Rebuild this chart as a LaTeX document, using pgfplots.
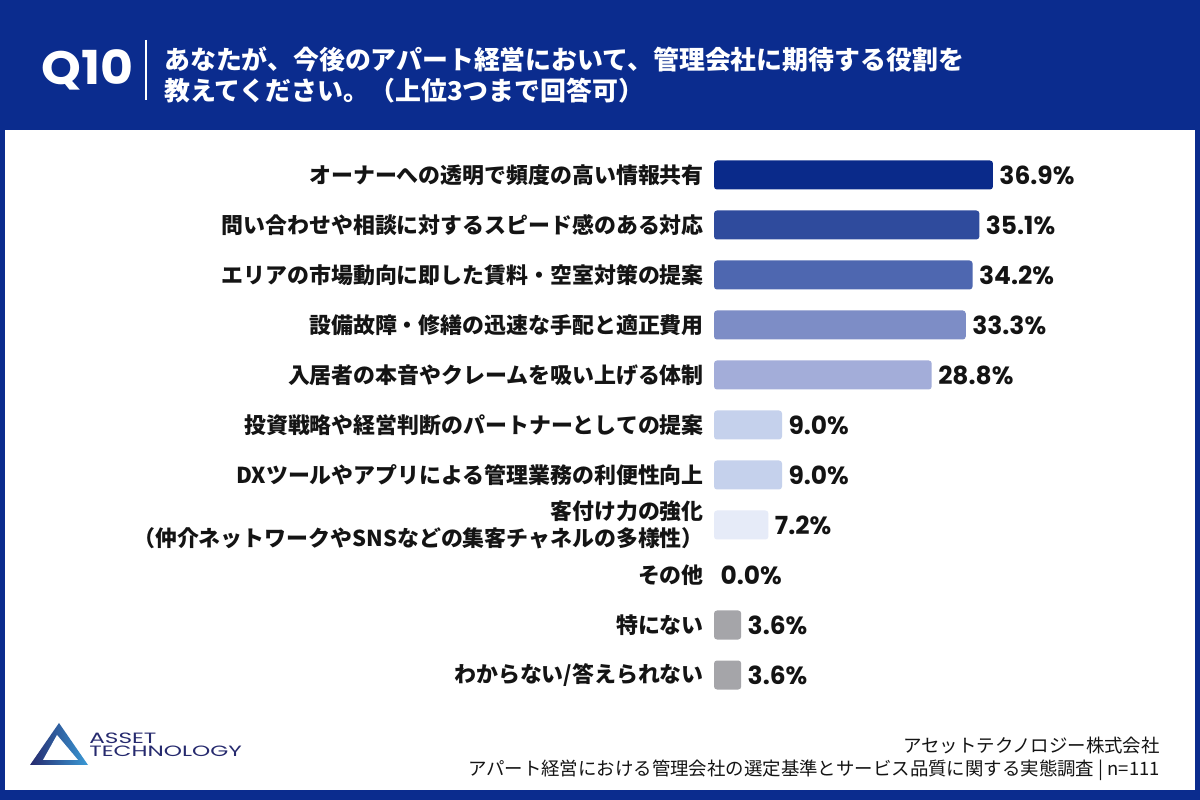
\documentclass[border=0pt]{standalone}
\usepackage{fontspec}
\usepackage{pgfplots}
\pgfplotsset{compat=1.18}
\setmainfont{Noto Sans CJK JP}
\newfontfamily\numfont{Poppins}

\definecolor{headblue}{HTML}{0B2C8E}
\definecolor{cA}{HTML}{0A2A8A}
\definecolor{cB}{HTML}{2F4B9D}
\definecolor{cC}{HTML}{4E67B0}
\definecolor{cD}{HTML}{7D8DC6}
\definecolor{cE}{HTML}{A3ADD9}
\definecolor{cF}{HTML}{C5D1EC}
\definecolor{cG}{HTML}{E6EBF8}
\definecolor{cGray}{HTML}{A5A5A9}
\definecolor{logonavy}{HTML}{262A6E}
\definecolor{logolight}{HTML}{3A9AD6}
\definecolor{txt}{HTML}{141414}

\begin{document}
\begin{tikzpicture}[x=1bp,y=1bp]
\useasboundingbox (0,0) rectangle (1200,800);
% frame and white panel
\fill[headblue] (0,0) rectangle (1200,800);
\fill[white] (5,10) rectangle (1195,670);

% header
\node[anchor=west, text=white, inner sep=0pt, xscale=1.08,
      font=\numfont\bfseries\fontsize{47}{47}\selectfont] at (41,730) {Q10};
\draw[white, line width=1.5bp] (146,760) -- (146,700);
\node[anchor=west, text=white, inner sep=0pt, align=left,
      font=\bfseries\fontsize{26}{32}\selectfont] at (164,725)
  {あなたが、今後のアパート経営において、管理会社に期待する役割を\\教えてください。（上位3つまで回答可）};

% bar chart
\begin{axis}[
  at={(714bp,100bp)}, anchor=south west,
  scale only axis, width=302.4bp, height=550bp,
  xmin=0, xmax=40, ymin=-0.5, ymax=10.5, y dir=reverse,
  xbar, bar width=29bp, bar shift=0pt,
  axis line style={draw=none},
  xtick=\empty, ytick={0,...,10}, major tick length=0pt,
  yticklabels={
    オーナーへの透明で頻度の高い情報共有,
    問い合わせや相談に対するスピード感のある対応,
    エリアの市場動向に即した賃料・空室対策の提案,
    設備故障・修繕の迅速な手配と適正費用,
    入居者の本音やクレームを吸い上げる体制,
    投資戦略や経営判断のパートナーとしての提案,
    DXツールやアプリによる管理業務の利便性向上,
    {客付け力の強化\\（仲介ネットワークやSNSなどの集客チャネルの多様性）},
    その他,
    特にない,
    わからない/答えられない},
  yticklabel style={align=right, text=txt, inner xsep=10bp,
    font=\bfseries\fontsize{22}{27}\selectfont},
  nodes near coords={\pgfmathprintnumber[fixed,fixed zerofill,precision=1,assume math mode=true]{\pgfplotspointmeta}\%},
  nodes near coords style={font=\numfont\bfseries\fontsize{25}{25}\selectfont,
    text=txt, anchor=west, xshift=3bp},
  clip=false,
]
\addplot[fill=cA, draw=none, rounded corners=3bp] coordinates {(36.9,0)};
\addplot[fill=cB, draw=none, rounded corners=3bp] coordinates {(35.1,1)};
\addplot[fill=cC, draw=none, rounded corners=3bp] coordinates {(34.2,2)};
\addplot[fill=cD, draw=none, rounded corners=3bp] coordinates {(33.3,3)};
\addplot[fill=cE, draw=none, rounded corners=3bp] coordinates {(28.8,4)};
\addplot[fill=cF, draw=none, rounded corners=3bp] coordinates {(9.0,5)};
\addplot[fill=cF, draw=none, rounded corners=3bp] coordinates {(9.0,6)};
\addplot[fill=cG, draw=none, rounded corners=3bp] coordinates {(7.2,7)};
\addplot[fill=none, draw=none] coordinates {(0.0,8)};
\addplot[fill=cGray, draw=none, rounded corners=3bp] coordinates {(3.6,9)};
\addplot[fill=cGray, draw=none, rounded corners=3bp] coordinates {(3.6,10)};
\end{axis}

% logo
\shade[left color=logonavy, right color=logolight] (30,35) -- (59,77) -- (88,35) -- cycle;
\fill[white] (43,40) -- (57,65) -- (78,40) -- cycle;
\node[anchor=west, inner sep=0pt, text=logonavy, xscale=1.55,
      font=\numfont\fontsize{15}{15}\selectfont] at (89,62) {ASSET};
\node[anchor=west, inner sep=0pt, text=logonavy, xscale=1.55,
      font=\numfont\fontsize{15}{15}\selectfont] at (89,48.5) {TECHNOLOGY};

% footer
\node[anchor=east, inner sep=0pt, text=txt, font=\fontsize{18.5}{18.5}\selectfont]
  at (1160,54) {アセットテクノロジー株式会社};
\node[anchor=east, inner sep=0pt, text=txt, font=\fontsize{18.5}{18.5}\selectfont]
  at (1160,30) {アパート経営における管理会社の選定基準とサービス品質に関する実態調査 | n=111};
\end{tikzpicture}
\end{document}
